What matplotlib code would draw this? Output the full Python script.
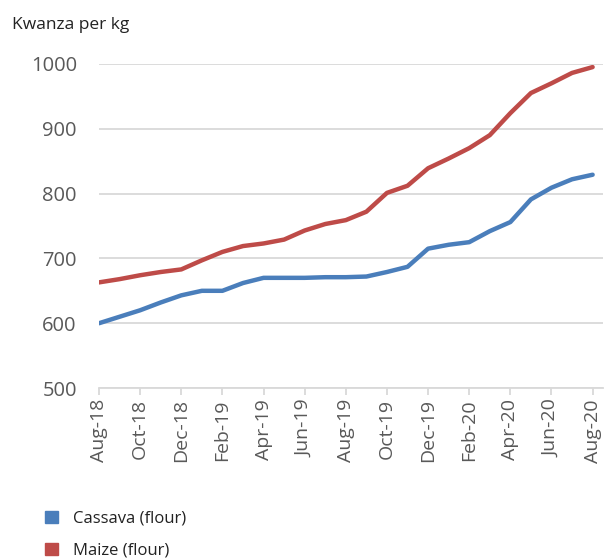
import matplotlib
matplotlib.use("Agg")
import matplotlib.pyplot as plt
from matplotlib.patches import Patch

plt.rcParams['font.family'] = ['Open Sans', 'DejaVu Sans']

months = ['Aug-18', 'Sep-18', 'Oct-18', 'Nov-18', 'Dec-18', 'Jan-19', 'Feb-19',
          'Mar-19', 'Apr-19', 'May-19', 'Jun-19', 'Jul-19', 'Aug-19', 'Sep-19',
          'Oct-19', 'Nov-19', 'Dec-19', 'Jan-20', 'Feb-20', 'Mar-20', 'Apr-20',
          'May-20', 'Jun-20', 'Jul-20', 'Aug-20']

cassava = [600, 610, 620, 632, 643, 650, 650, 662, 670, 670, 670, 671, 671,
           672, 679, 687, 715, 721, 725, 742, 756, 791, 809, 822, 829]
maize = [663, 668, 674, 679, 683, 697, 710, 719, 723, 729, 743, 753, 759,
         772, 801, 812, 839, 854, 870, 890, 924, 955, 970, 986, 995]

blue = '#4a7ebb'
red = '#be4b48'
grey_txt = '#595959'
grid = '#d9d9d9'

fig = plt.figure(figsize=(6.09, 5.6), dpi=100)
ax = fig.add_axes([0.1626, 0.307, 0.8274, 0.579])

xs = list(range(len(months)))
ax.plot(xs, cassava, color=blue, lw=3.2, solid_capstyle='round', solid_joinstyle='round')
ax.plot(xs, maize, color=red, lw=3.2, solid_capstyle='round', solid_joinstyle='round')

ax.set_ylim(500, 1000)
ax.set_xlim(0, 24.5)
ax.set_yticks([500, 600, 700, 800, 900, 1000])
ax.set_xticks(xs[::2])
ax.set_xticklabels(months[::2], rotation=90)
ax.grid(axis='y', color=grid, lw=1.3)
ax.set_axisbelow(True)

for s in ['top', 'right', 'left']:
    ax.spines[s].set_visible(False)
ax.spines['bottom'].set_color(grid)
ax.spines['bottom'].set_linewidth(1.3)
ax.tick_params(axis='y', length=0, pad=16, labelsize=14.5, labelcolor=grey_txt)
ax.tick_params(axis='x', length=5, color=grid, width=1.3, pad=3,
               labelsize=14, labelcolor=grey_txt)

fig.text(0.02, 0.955, 'Kwanza per kg', fontsize=12.5, color='#222222', va='center')

handles = [Patch(color=blue, label='Cassava (flour)'),
           Patch(color=red, label='Maize (flour)')]
fig.legend(handles=handles, loc='upper left', bbox_to_anchor=(0.05, 0.115),
           frameon=False, fontsize=12, handlelength=0.75, handleheight=0.75,
           labelspacing=0.95, handletextpad=0.9, labelcolor='#222222')

fig.savefig('out.png', dpi=100)
